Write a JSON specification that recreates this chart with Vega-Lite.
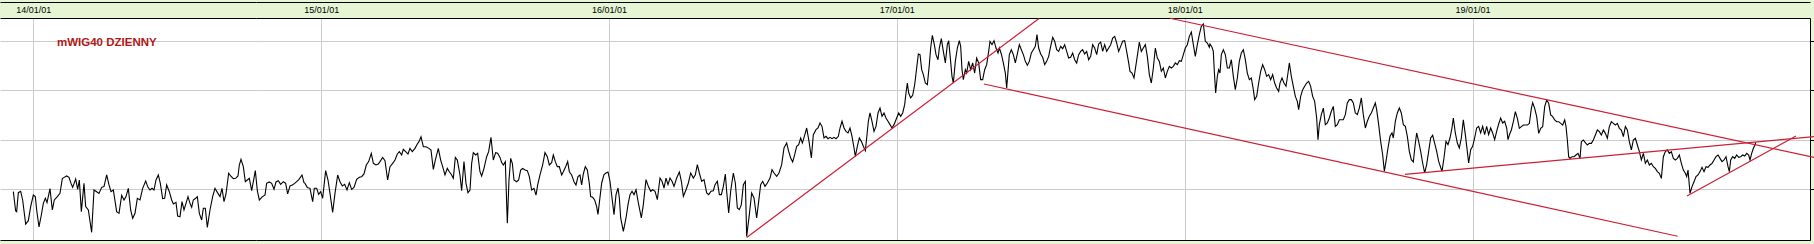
{
"$schema": "https://vega.github.io/schema/vega-lite/v6.json",
"width": 1810, "height": 222,
"autosize": "none",
"padding": {"left": 0, "top": 18, "right": 4, "bottom": 4},
"background": "#e6f6d5",
"view": {"fill": "#ffffff", "stroke": null},
"config": {"axis": {"labelFont": "Liberation Sans", "labelFontSize": 9, "labelColor": "#000000", "gridColor": "#cccccc", "gridWidth": 1}},
"datasets": {
"price": [
{"year":2013.9306,"close":3476},{"year":2013.9387,"close":3281},{"year":2013.9422,"close":3274},{"year":2013.9480,"close":3466},{"year":2013.9561,"close":3480},{"year":2013.9630,"close":3392},{"year":2013.9735,"close":3149},{"year":2013.9827,"close":3183},{"year":2013.9908,"close":3325},{"year":2014.0001,"close":3442},{"year":2014.0070,"close":3426},{"year":2014.0117,"close":3291},{"year":2014.0198,"close":3119},{"year":2014.0279,"close":3240},{"year":2014.0348,"close":3358},{"year":2014.0418,"close":3409},{"year":2014.0476,"close":3365},{"year":2014.0580,"close":3507},{"year":2014.0661,"close":3291},{"year":2014.0730,"close":3392},{"year":2014.0835,"close":3426},{"year":2014.0927,"close":3459},{"year":2014.1008,"close":3608},{"year":2014.1113,"close":3628},{"year":2014.1159,"close":3635},{"year":2014.1240,"close":3621},{"year":2014.1310,"close":3560},{"year":2014.1367,"close":3520},{"year":2014.1472,"close":3604},{"year":2014.1541,"close":3500},{"year":2014.1599,"close":3594},{"year":2014.1669,"close":3274},{"year":2014.1761,"close":3560},{"year":2014.1819,"close":3325},{"year":2014.1912,"close":3291},{"year":2014.2027,"close":3065},{"year":2014.2109,"close":3493},{"year":2014.2201,"close":3476},{"year":2014.2282,"close":3459},{"year":2014.2375,"close":3520},{"year":2014.2456,"close":3527},{"year":2014.2549,"close":3645},{"year":2014.2630,"close":3544},{"year":2014.2699,"close":3476},{"year":2014.2780,"close":3493},{"year":2014.2896,"close":3274},{"year":2014.2977,"close":3257},{"year":2014.3070,"close":3439},{"year":2014.3151,"close":3392},{"year":2014.3220,"close":3426},{"year":2014.3301,"close":3510},{"year":2014.3382,"close":3291},{"year":2014.3452,"close":3207},{"year":2014.3533,"close":3257},{"year":2014.3614,"close":3409},{"year":2014.3707,"close":3392},{"year":2014.3799,"close":3510},{"year":2014.3904,"close":3584},{"year":2014.3985,"close":3520},{"year":2014.4054,"close":3493},{"year":2014.4124,"close":3510},{"year":2014.4193,"close":3493},{"year":2014.4263,"close":3594},{"year":2014.4344,"close":3645},{"year":2014.4413,"close":3560},{"year":2014.4494,"close":3405},{"year":2014.4564,"close":3409},{"year":2014.4633,"close":3544},{"year":2014.4726,"close":3476},{"year":2014.4807,"close":3392},{"year":2014.4865,"close":3351},{"year":2014.4957,"close":3368},{"year":2014.5015,"close":3230},{"year":2014.5096,"close":3223},{"year":2014.5166,"close":3375},{"year":2014.5235,"close":3291},{"year":2014.5305,"close":3358},{"year":2014.5374,"close":3426},{"year":2014.5444,"close":3358},{"year":2014.5502,"close":3318},{"year":2014.5559,"close":3392},{"year":2014.5640,"close":3409},{"year":2014.5698,"close":3426},{"year":2014.5768,"close":3257},{"year":2014.5849,"close":3190},{"year":2014.5907,"close":3308},{"year":2014.5976,"close":3308},{"year":2014.6046,"close":3115},{"year":2014.6138,"close":3291},{"year":2014.6231,"close":3426},{"year":2014.6312,"close":3510},{"year":2014.6393,"close":3469},{"year":2014.6486,"close":3426},{"year":2014.6555,"close":3510},{"year":2014.6625,"close":3375},{"year":2014.6694,"close":3453},{"year":2014.6787,"close":3662},{"year":2014.6856,"close":3635},{"year":2014.6949,"close":3608},{"year":2014.7030,"close":3611},{"year":2014.7111,"close":3635},{"year":2014.7157,"close":3746},{"year":2014.7215,"close":3803},{"year":2014.7296,"close":3729},{"year":2014.7366,"close":3577},{"year":2014.7435,"close":3594},{"year":2014.7505,"close":3611},{"year":2014.7586,"close":3486},{"year":2014.7644,"close":3577},{"year":2014.7713,"close":3689},{"year":2014.7783,"close":3486},{"year":2014.7852,"close":3392},{"year":2014.7933,"close":3419},{"year":2014.8049,"close":3442},{"year":2014.8107,"close":3560},{"year":2014.8200,"close":3574},{"year":2014.8281,"close":3560},{"year":2014.8362,"close":3500},{"year":2014.8431,"close":3574},{"year":2014.8512,"close":3587},{"year":2014.8593,"close":3550},{"year":2014.8686,"close":3577},{"year":2014.8767,"close":3560},{"year":2014.8837,"close":3453},{"year":2014.8918,"close":3534},{"year":2014.8999,"close":3544},{"year":2014.9080,"close":3560},{"year":2014.9149,"close":3577},{"year":2014.9230,"close":3601},{"year":2014.9335,"close":3645},{"year":2014.9404,"close":3567},
{"year":2014.9439,"close":3560},{"year":2014.9520,"close":3517},{"year":2014.9612,"close":3510},{"year":2014.9705,"close":3375},{"year":2014.9763,"close":3510},{"year":2014.9844,"close":3510},{"year":2014.9913,"close":3449},{"year":2014.9983,"close":3476},{"year":2015.0052,"close":3409},{"year":2015.0157,"close":3689},{"year":2015.0238,"close":3594},{"year":2015.0307,"close":3459},{"year":2015.0400,"close":3267},{"year":2015.0481,"close":3459},{"year":2015.0574,"close":3645},{"year":2015.0655,"close":3577},{"year":2015.0736,"close":3534},{"year":2015.0817,"close":3550},{"year":2015.0898,"close":3493},{"year":2015.0979,"close":3567},{"year":2015.1060,"close":3500},{"year":2015.1141,"close":3520},{"year":2015.1234,"close":3601},{"year":2015.1326,"close":3621},{"year":2015.1407,"close":3628},{"year":2015.1488,"close":3655},{"year":2015.1569,"close":3746},{"year":2015.1650,"close":3780},{"year":2015.1743,"close":3864},{"year":2015.1813,"close":3763},{"year":2015.1905,"close":3746},{"year":2015.1986,"close":3756},{"year":2015.2044,"close":3780},{"year":2015.2137,"close":3823},{"year":2015.2218,"close":3790},{"year":2015.2310,"close":3594},{"year":2015.2391,"close":3729},{"year":2015.2484,"close":3763},{"year":2015.2565,"close":3796},{"year":2015.2646,"close":3857},{"year":2015.2716,"close":3881},{"year":2015.2797,"close":3847},{"year":2015.2855,"close":3904},{"year":2015.2936,"close":3881},{"year":2015.3017,"close":3857},{"year":2015.3086,"close":3914},{"year":2015.3167,"close":3881},{"year":2015.3260,"close":3914},{"year":2015.3341,"close":3958},{"year":2015.3399,"close":3982},{"year":2015.3469,"close":4032},{"year":2015.3550,"close":3931},{"year":2015.3642,"close":3931},{"year":2015.3746,"close":3914},{"year":2015.3816,"close":3898},{"year":2015.3897,"close":3702},{"year":2015.3966,"close":3796},{"year":2015.4071,"close":3914},{"year":2015.4152,"close":3796},{"year":2015.4221,"close":3729},{"year":2015.4302,"close":3645},{"year":2015.4383,"close":3712},{"year":2015.4453,"close":3678},{"year":2015.4534,"close":3645},{"year":2015.4592,"close":3611},{"year":2015.4661,"close":3823},{"year":2015.4731,"close":3796},{"year":2015.4823,"close":3645},{"year":2015.4881,"close":3486},{"year":2015.4962,"close":3780},{"year":2015.5032,"close":3560},{"year":2015.5101,"close":3466},{"year":2015.5171,"close":3493},{"year":2015.5229,"close":3763},{"year":2015.5287,"close":3871},{"year":2015.5368,"close":3847},{"year":2015.5437,"close":3864},{"year":2015.5518,"close":3678},{"year":2015.5576,"close":3635},{"year":2015.5657,"close":3712},{"year":2015.5750,"close":3830},{"year":2015.5819,"close":3881},{"year":2015.5900,"close":4026},{"year":2015.5981,"close":3796},{"year":2015.6062,"close":3871},{"year":2015.6132,"close":3864},{"year":2015.6213,"close":3823},{"year":2015.6271,"close":3770},{"year":2015.6329,"close":3746},{"year":2015.6398,"close":3780},{"year":2015.6468,"close":3156},{"year":2015.6526,"close":3594},{"year":2015.6584,"close":3813},{"year":2015.6642,"close":3763},{"year":2015.6699,"close":3594},{"year":2015.6792,"close":3577},{"year":2015.6861,"close":3594},{"year":2015.6931,"close":3695},{"year":2015.7000,"close":3712},{"year":2015.7082,"close":3695},{"year":2015.7163,"close":3689},{"year":2015.7232,"close":3628},{"year":2015.7313,"close":3493},{"year":2015.7394,"close":3510},{"year":2015.7464,"close":3442},{"year":2015.7522,"close":3544},{"year":2015.7603,"close":3645},{"year":2015.7695,"close":3746},{"year":2015.7776,"close":3871},{"year":2015.7857,"close":3830},{"year":2015.7927,"close":3746},{"year":2015.8008,"close":3770},{"year":2015.8066,"close":3847},{"year":2015.8135,"close":3780},{"year":2015.8205,"close":3729},{"year":2015.8274,"close":3729},{"year":2015.8355,"close":3645},{"year":2015.8413,"close":3678},{"year":2015.8494,"close":3729},{"year":2015.8564,"close":3780},{"year":2015.8622,"close":3678},{"year":2015.8703,"close":3645},{"year":2015.8784,"close":3577},{"year":2015.8853,"close":3544},{"year":2015.8923,"close":3628},{"year":2015.8992,"close":3645},{"year":2015.9050,"close":3544},{"year":2015.9108,"close":3655},{"year":2015.9177,"close":3729},{"year":2015.9247,"close":3695},{"year":2015.9316,"close":3560},{"year":2015.9363,"close":3426},{"year":2015.9432,"close":3419},{"year":2015.9502,"close":3392},{"year":2015.9571,"close":3325},{"year":2015.9617,"close":3247},
{"year":2015.9746,"close":3564},{"year":2015.9827,"close":3648},{"year":2015.9896,"close":3665},{"year":2015.9966,"close":3675},{"year":2016.0035,"close":3581},{"year":2016.0105,"close":3412},{"year":2016.0174,"close":3244},{"year":2016.0244,"close":3446},{"year":2016.0313,"close":3513},{"year":2016.0360,"close":3412},{"year":2016.0406,"close":3210},{"year":2016.0499,"close":3075},{"year":2016.0591,"close":3210},{"year":2016.0661,"close":3345},{"year":2016.0730,"close":3446},{"year":2016.0800,"close":3480},{"year":2016.0869,"close":3446},{"year":2016.0939,"close":3496},{"year":2016.1020,"close":3362},{"year":2016.1124,"close":3210},{"year":2016.1193,"close":3345},{"year":2016.1286,"close":3598},{"year":2016.1367,"close":3530},{"year":2016.1448,"close":3480},{"year":2016.1518,"close":3496},{"year":2016.1599,"close":3480},{"year":2016.1680,"close":3395},{"year":2016.1772,"close":3614},{"year":2016.1842,"close":3581},{"year":2016.1911,"close":3513},{"year":2016.1981,"close":3614},{"year":2016.2050,"close":3547},{"year":2016.2120,"close":3614},{"year":2016.2189,"close":3581},{"year":2016.2259,"close":3530},{"year":2016.2351,"close":3614},{"year":2016.2444,"close":3675},{"year":2016.2514,"close":3581},{"year":2016.2583,"close":3429},{"year":2016.2676,"close":3496},{"year":2016.2757,"close":3564},{"year":2016.2838,"close":3665},{"year":2016.2930,"close":3614},{"year":2016.3000,"close":3648},{"year":2016.3069,"close":3749},{"year":2016.3139,"close":3665},{"year":2016.3220,"close":3581},{"year":2016.3301,"close":3598},{"year":2016.3394,"close":3463},{"year":2016.3463,"close":3446},{"year":2016.3544,"close":3480},{"year":2016.3625,"close":3486},{"year":2016.3683,"close":3547},{"year":2016.3764,"close":3581},{"year":2016.3834,"close":3446},{"year":2016.3903,"close":3446},{"year":2016.3973,"close":3530},{"year":2016.4042,"close":3655},{"year":2016.4088,"close":3480},{"year":2016.4158,"close":3260},{"year":2016.4227,"close":3480},{"year":2016.4320,"close":3665},{"year":2016.4389,"close":3564},{"year":2016.4459,"close":3311},{"year":2016.4528,"close":3294},{"year":2016.4598,"close":3345},{"year":2016.4667,"close":3547},{"year":2016.4737,"close":3581},{"year":2016.4783,"close":3024},{"year":2016.4876,"close":3244},{"year":2016.4957,"close":3463},{"year":2016.5038,"close":3412},{"year":2016.5130,"close":3210},{"year":2016.5200,"close":3378},{"year":2016.5269,"close":3547},{"year":2016.5339,"close":3581},{"year":2016.5420,"close":3530},{"year":2016.5501,"close":3564},{"year":2016.5594,"close":3614},{"year":2016.5663,"close":3699},{"year":2016.5733,"close":3665},{"year":2016.5825,"close":3631},{"year":2016.5906,"close":3665},{"year":2016.5999,"close":3749},{"year":2016.6080,"close":3918},{"year":2016.6173,"close":3968},{"year":2016.6242,"close":3884},{"year":2016.6312,"close":3817},{"year":2016.6381,"close":3776},{"year":2016.6451,"close":3850},{"year":2016.6520,"close":3935},{"year":2016.6590,"close":3952},{"year":2016.6659,"close":4019},{"year":2016.6717,"close":3968},{"year":2016.6787,"close":4036},{"year":2016.6868,"close":4120},{"year":2016.6949,"close":3985},{"year":2016.7030,"close":3817},{"year":2016.7099,"close":4053},{"year":2016.7192,"close":4103},{"year":2016.7261,"close":4120},{"year":2016.7331,"close":4171},{"year":2016.7400,"close":4137},{"year":2016.7470,"close":4019},{"year":2016.7539,"close":4036},{"year":2016.7609,"close":4012},{"year":2016.7678,"close":4026},{"year":2016.7748,"close":4012},{"year":2016.7817,"close":4026},{"year":2016.7887,"close":4012},{"year":2016.7968,"close":4036},{"year":2016.8026,"close":4120},{"year":2016.8095,"close":4188},{"year":2016.8165,"close":4120},{"year":2016.8234,"close":4086},{"year":2016.8304,"close":4070},{"year":2016.8373,"close":4120},{"year":2016.8442,"close":4036},{"year":2016.8512,"close":3918},{"year":2016.8558,"close":3834},{"year":2016.8628,"close":3935},{"year":2016.8697,"close":4019},{"year":2016.8767,"close":3985},{"year":2016.8836,"close":3935},{"year":2016.8906,"close":3891},{"year":2016.8952,"close":4019},{"year":2016.9010,"close":4188},{"year":2016.9068,"close":4272},{"year":2016.9137,"close":4188},{"year":2016.9207,"close":4086},{"year":2016.9276,"close":4137},{"year":2016.9346,"close":4272},{"year":2016.9415,"close":4322},{"year":2016.9485,"close":4238},{"year":2016.9554,"close":4272},{"year":2016.9624,"close":4221},{"year":2016.9693,"close":4188},{"year":2016.9763,"close":4154},{"year":2016.9832,"close":4120},{"year":2016.9902,"close":4154},{"year":2016.9994,"close":4221},{"year":2017.0064,"close":4272},{"year":2017.0133,"close":4238},{"year":2017.0203,"close":4272},{"year":2017.0272,"close":4356},{"year":2017.0318,"close":4474},{"year":2017.0365,"close":4575},
{"year":2017.0411,"close":4474},{"year":2017.0481,"close":4424},{"year":2017.0550,"close":4450},{"year":2017.0620,"close":4558},{"year":2017.0689,"close":4727},{"year":2017.0747,"close":4869},{"year":2017.0805,"close":4862},{"year":2017.0863,"close":4710},{"year":2017.0921,"close":4660},{"year":2017.0990,"close":4575},{"year":2017.1060,"close":4558},{"year":2017.1129,"close":4761},{"year":2017.1175,"close":4929},{"year":2017.1233,"close":5057},{"year":2017.1303,"close":4963},{"year":2017.1361,"close":4862},{"year":2017.1430,"close":4811},{"year":2017.1476,"close":4929},{"year":2017.1546,"close":5024},{"year":2017.1615,"close":4895},{"year":2017.1685,"close":4778},{"year":2017.1754,"close":4963},{"year":2017.1801,"close":5003},{"year":2017.1847,"close":4862},{"year":2017.1916,"close":4643},{"year":2017.1963,"close":4575},{"year":2017.2032,"close":4794},{"year":2017.2102,"close":4929},{"year":2017.2171,"close":5003},{"year":2017.2218,"close":4946},{"year":2017.2264,"close":4710},{"year":2017.2310,"close":4609},{"year":2017.2380,"close":4710},{"year":2017.2426,"close":4676},{"year":2017.2495,"close":4794},{"year":2017.2565,"close":4710},{"year":2017.2634,"close":4778},{"year":2017.2704,"close":4676},{"year":2017.2773,"close":4828},{"year":2017.2843,"close":4778},{"year":2017.2912,"close":4609},{"year":2017.2982,"close":4609},{"year":2017.3051,"close":4710},{"year":2017.3121,"close":4761},{"year":2017.3190,"close":4895},{"year":2017.3237,"close":4997},{"year":2017.3306,"close":4963},{"year":2017.3376,"close":5003},{"year":2017.3445,"close":4929},{"year":2017.3515,"close":4879},{"year":2017.3561,"close":4929},{"year":2017.3630,"close":4869},{"year":2017.3700,"close":4778},{"year":2017.3769,"close":4676},{"year":2017.3816,"close":4525},{"year":2017.3862,"close":4693},{"year":2017.3908,"close":4862},{"year":2017.3978,"close":4912},{"year":2017.4047,"close":4862},{"year":2017.4117,"close":4778},{"year":2017.4186,"close":4869},{"year":2017.4256,"close":4963},{"year":2017.4325,"close":4912},{"year":2017.4395,"close":4862},{"year":2017.4464,"close":4794},{"year":2017.4534,"close":4754},{"year":2017.4603,"close":4794},{"year":2017.4673,"close":4879},{"year":2017.4742,"close":4912},{"year":2017.4811,"close":4946},{"year":2017.4869,"close":5064},{"year":2017.4927,"close":4929},{"year":2017.4997,"close":4869},{"year":2017.5066,"close":4835},{"year":2017.5136,"close":4761},{"year":2017.5205,"close":4794},{"year":2017.5275,"close":4845},{"year":2017.5344,"close":4946},{"year":2017.5414,"close":5037},{"year":2017.5483,"close":4997},{"year":2017.5553,"close":4912},{"year":2017.5622,"close":4895},{"year":2017.5692,"close":4946},{"year":2017.5761,"close":4922},{"year":2017.5831,"close":4963},{"year":2017.5900,"close":4895},{"year":2017.5969,"close":4828},{"year":2017.6039,"close":4835},{"year":2017.6108,"close":4879},{"year":2017.6178,"close":4811},{"year":2017.6247,"close":4778},{"year":2017.6317,"close":4862},{"year":2017.6386,"close":4895},{"year":2017.6456,"close":4912},{"year":2017.6525,"close":4869},{"year":2017.6595,"close":4895},{"year":2017.6664,"close":4811},{"year":2017.6734,"close":4845},{"year":2017.6803,"close":4963},{"year":2017.6873,"close":4929},{"year":2017.6942,"close":4862},{"year":2017.7012,"close":4970},{"year":2017.7081,"close":4990},{"year":2017.7151,"close":4895},{"year":2017.7220,"close":4963},{"year":2017.7290,"close":4895},{"year":2017.7359,"close":4929},{"year":2017.7429,"close":4963},{"year":2017.7498,"close":5030},{"year":2017.7568,"close":5047},{"year":2017.7637,"close":4980},{"year":2017.7706,"close":4895},{"year":2017.7776,"close":4946},{"year":2017.7845,"close":4997},{"year":2017.7915,"close":5003},{"year":2017.7984,"close":4895},{"year":2017.8054,"close":4778},{"year":2017.8100,"close":4693},{"year":2017.8170,"close":4676},{"year":2017.8239,"close":4626},{"year":2017.8309,"close":4761},{"year":2017.8378,"close":4895},{"year":2017.8424,"close":4990},{"year":2017.8494,"close":4895},{"year":2017.8563,"close":4929},{"year":2017.8633,"close":4963},{"year":2017.8702,"close":4845},{"year":2017.8772,"close":4660},{"year":2017.8841,"close":4575},{"year":2017.8911,"close":4727},{"year":2017.8980,"close":4929},{"year":2017.9050,"close":4828},{"year":2017.9119,"close":4794},{"year":2017.9189,"close":4693},{"year":2017.9258,"close":4727},{"year":2017.9328,"close":4626},{"year":2017.9397,"close":4693},{"year":2017.9467,"close":4744},{"year":2017.9536,"close":4727},{"year":2017.9606,"close":4744},{"year":2017.9675,"close":4778},{"year":2017.9745,"close":4761},{"year":2017.9814,"close":4801},{"year":2017.9884,"close":4794},{"year":2017.9953,"close":4862},{"year":2018.0022,"close":4929},{"year":2018.0092,"close":4963},{"year":2018.0161,"close":5047},{"year":2018.0231,"close":5091},{"year":2018.0300,"close":4963},{"year":2018.0370,"close":4845},{"year":2018.0439,"close":4963},{"year":2018.0509,"close":5064},{"year":2018.0578,"close":5148},{"year":2018.0648,"close":5172},{"year":2018.0717,"close":4997},{"year":2018.0787,"close":4980},{"year":2018.0856,"close":4936},
{"year":2018.0879,"close":4970},{"year":2018.0949,"close":4936},{"year":2018.0995,"close":4895},{"year":2018.1030,"close":4693},{"year":2018.1076,"close":4474},{"year":2018.1134,"close":4643},{"year":2018.1180,"close":4710},{"year":2018.1227,"close":4676},{"year":2018.1273,"close":4862},{"year":2018.1343,"close":4912},{"year":2018.1412,"close":4862},{"year":2018.1482,"close":4727},{"year":2018.1551,"close":4727},{"year":2018.1621,"close":4811},{"year":2018.1690,"close":4643},{"year":2018.1759,"close":4508},{"year":2018.1829,"close":4626},{"year":2018.1898,"close":4794},{"year":2018.1968,"close":4879},{"year":2018.2037,"close":4912},{"year":2018.2107,"close":4811},{"year":2018.2176,"close":4676},{"year":2018.2246,"close":4609},{"year":2018.2315,"close":4626},{"year":2018.2385,"close":4508},{"year":2018.2431,"close":4407},{"year":2018.2501,"close":4440},{"year":2018.2570,"close":4575},{"year":2018.2640,"close":4693},{"year":2018.2709,"close":4761},{"year":2018.2779,"close":4710},{"year":2018.2848,"close":4643},{"year":2018.2917,"close":4660},{"year":2018.2987,"close":4609},{"year":2018.3056,"close":4660},{"year":2018.3126,"close":4575},{"year":2018.3195,"close":4525},{"year":2018.3265,"close":4491},{"year":2018.3311,"close":4575},{"year":2018.3381,"close":4626},{"year":2018.3450,"close":4575},{"year":2018.3520,"close":4542},{"year":2018.3589,"close":4676},{"year":2018.3635,"close":4778},{"year":2018.3705,"close":4643},{"year":2018.3774,"close":4542},{"year":2018.3844,"close":4440},{"year":2018.3913,"close":4390},{"year":2018.3960,"close":4306},{"year":2018.4029,"close":4440},{"year":2018.4099,"close":4508},{"year":2018.4168,"close":4542},{"year":2018.4238,"close":4575},{"year":2018.4307,"close":4592},{"year":2018.4376,"close":4542},{"year":2018.4446,"close":4440},{"year":2018.4515,"close":4390},{"year":2018.4585,"close":4221},{"year":2018.4631,"close":4002},{"year":2018.4677,"close":4154},{"year":2018.4747,"close":4255},{"year":2018.4817,"close":4322},{"year":2018.4886,"close":4154},{"year":2018.4956,"close":4171},{"year":2018.5025,"close":4221},{"year":2018.5095,"close":4289},{"year":2018.5164,"close":4339},{"year":2018.5233,"close":4137},{"year":2018.5303,"close":4154},{"year":2018.5372,"close":4204},{"year":2018.5442,"close":4204},{"year":2018.5511,"close":4204},{"year":2018.5581,"close":4255},{"year":2018.5650,"close":4373},{"year":2018.5720,"close":4407},{"year":2018.5789,"close":4407},{"year":2018.5859,"close":4373},{"year":2018.5928,"close":4272},{"year":2018.5998,"close":4255},{"year":2018.6067,"close":4322},{"year":2018.6137,"close":4424},{"year":2018.6206,"close":4255},{"year":2018.6276,"close":4120},{"year":2018.6345,"close":4188},{"year":2018.6415,"close":4238},{"year":2018.6484,"close":4272},{"year":2018.6554,"close":4322},{"year":2018.6623,"close":4373},{"year":2018.6669,"close":4306},{"year":2018.6739,"close":4154},{"year":2018.6808,"close":3985},{"year":2018.6878,"close":3850},{"year":2018.6936,"close":3682},{"year":2018.6994,"close":3783},{"year":2018.7063,"close":3918},{"year":2018.7133,"close":4036},{"year":2018.7202,"close":4070},{"year":2018.7248,"close":4019},{"year":2018.7318,"close":4188},{"year":2018.7387,"close":4272},{"year":2018.7457,"close":4322},{"year":2018.7526,"close":4272},{"year":2018.7596,"close":4154},{"year":2018.7665,"close":4137},{"year":2018.7735,"close":4036},{"year":2018.7804,"close":3884},{"year":2018.7874,"close":3800},{"year":2018.7943,"close":3776},{"year":2018.8001,"close":3935},{"year":2018.8059,"close":4070},{"year":2018.8128,"close":3985},{"year":2018.8198,"close":3884},{"year":2018.8267,"close":3766},{"year":2018.8337,"close":3665},{"year":2018.8406,"close":3749},{"year":2018.8476,"close":3884},{"year":2018.8545,"close":4019},{"year":2018.8615,"close":4046},{"year":2018.8684,"close":3968},{"year":2018.8754,"close":3884},{"year":2018.8823,"close":3783},{"year":2018.8893,"close":3722},{"year":2018.8939,"close":3682},{"year":2018.9008,"close":3817},{"year":2018.9078,"close":3985},{"year":2018.9147,"close":3952},{"year":2018.9217,"close":4019},{"year":2018.9286,"close":4120},{"year":2018.9333,"close":4221},{"year":2018.9402,"close":4070},{"year":2018.9472,"close":3968},{"year":2018.9541,"close":3918},{"year":2018.9611,"close":4019},{"year":2018.9680,"close":4204},{"year":2018.9750,"close":4053},{"year":2018.9819,"close":3884},{"year":2018.9865,"close":3766},{"year":2018.9935,"close":3901},{"year":2019.0004,"close":3935},{"year":2019.0074,"close":4019},{"year":2019.0143,"close":4120},{"year":2019.0213,"close":4137},{"year":2019.0282,"close":4070},{"year":2019.0352,"close":4137},{"year":2019.0421,"close":4053},{"year":2019.0491,"close":4137},{"year":2019.0560,"close":4053},{"year":2019.0630,"close":4120},{"year":2019.0699,"close":4070},{"year":2019.0769,"close":4002},{"year":2019.0838,"close":4086},{"year":2019.0908,"close":4161},{"year":2019.0977,"close":4221},{"year":2019.1047,"close":4171},{"year":2019.1116,"close":4188},{"year":2019.1186,"close":4120},{"year":2019.1232,"close":4002},
{"year":2019.1279,"close":4049},{"year":2019.1349,"close":4100},{"year":2019.1418,"close":4184},{"year":2019.1488,"close":4285},{"year":2019.1557,"close":4218},{"year":2019.1627,"close":4117},{"year":2019.1696,"close":4134},{"year":2019.1766,"close":4150},{"year":2019.1835,"close":4150},{"year":2019.1905,"close":4150},{"year":2019.1974,"close":4167},{"year":2019.2044,"close":4319},{"year":2019.2090,"close":4376},{"year":2019.2159,"close":4319},{"year":2019.2229,"close":4235},{"year":2019.2298,"close":4066},{"year":2019.2368,"close":4117},{"year":2019.2437,"close":4134},{"year":2019.2507,"close":4336},{"year":2019.2576,"close":4403},{"year":2019.2646,"close":4370},{"year":2019.2715,"close":4252},{"year":2019.2785,"close":4235},{"year":2019.2854,"close":4201},{"year":2019.2924,"close":4184},{"year":2019.2993,"close":4184},{"year":2019.3063,"close":4167},{"year":2019.3132,"close":4150},{"year":2019.3202,"close":4201},{"year":2019.3248,"close":4134},{"year":2019.3294,"close":3999},{"year":2019.3340,"close":3830},{"year":2019.3387,"close":3813},{"year":2019.3456,"close":3830},{"year":2019.3526,"close":3830},{"year":2019.3595,"close":3847},{"year":2019.3665,"close":3864},{"year":2019.3734,"close":3813},{"year":2019.3781,"close":3982},{"year":2019.3850,"close":3999},{"year":2019.3919,"close":3972},{"year":2019.3989,"close":3948},{"year":2019.4058,"close":3965},{"year":2019.4128,"close":3965},{"year":2019.4197,"close":3999},{"year":2019.4267,"close":4049},{"year":2019.4336,"close":4100},{"year":2019.4406,"close":4083},{"year":2019.4475,"close":4049},{"year":2019.4545,"close":4100},{"year":2019.4614,"close":4066},{"year":2019.4684,"close":4016},{"year":2019.4753,"close":4134},{"year":2019.4823,"close":4184},{"year":2019.4892,"close":4167},{"year":2019.4962,"close":4150},{"year":2019.5031,"close":4167},{"year":2019.5101,"close":4117},{"year":2019.5170,"close":4100},{"year":2019.5240,"close":4033},{"year":2019.5309,"close":4134},{"year":2019.5379,"close":4100},{"year":2019.5448,"close":3982},{"year":2019.5518,"close":3898},{"year":2019.5587,"close":3999},{"year":2019.5657,"close":4016},{"year":2019.5726,"close":3948},{"year":2019.5796,"close":3881},{"year":2019.5865,"close":3797},{"year":2019.5935,"close":3864},{"year":2019.6004,"close":3763},{"year":2019.6074,"close":3797},{"year":2019.6143,"close":3746},{"year":2019.6213,"close":3763},{"year":2019.6282,"close":3729},{"year":2019.6351,"close":3712},{"year":2019.6421,"close":3679},{"year":2019.6490,"close":3662},{"year":2019.6560,"close":3611},{"year":2019.6629,"close":3830},{"year":2019.6699,"close":3881},{"year":2019.6768,"close":3898},{"year":2019.6838,"close":3864},{"year":2019.6907,"close":3881},{"year":2019.6977,"close":3813},{"year":2019.7046,"close":3797},{"year":2019.7116,"close":3813},{"year":2019.7185,"close":3847},{"year":2019.7255,"close":3763},{"year":2019.7324,"close":3695},{"year":2019.7394,"close":3662},{"year":2019.7440,"close":3628},{"year":2019.7486,"close":3695},{"year":2019.7556,"close":3459},{"year":2019.7625,"close":3527},{"year":2019.7695,"close":3577},{"year":2019.7764,"close":3628},{"year":2019.7834,"close":3645},{"year":2019.7903,"close":3679},{"year":2019.7973,"close":3722},{"year":2019.8042,"close":3679},{"year":2019.8112,"close":3729},{"year":2019.8181,"close":3722},{"year":2019.8251,"close":3746},{"year":2019.8320,"close":3763},{"year":2019.8390,"close":3797},{"year":2019.8459,"close":3830},{"year":2019.8529,"close":3847},{"year":2019.8598,"close":3813},{"year":2019.8668,"close":3780},{"year":2019.8737,"close":3797},{"year":2019.8806,"close":3830},{"year":2019.8876,"close":3729},{"year":2019.8922,"close":3679},{"year":2019.8969,"close":3797},{"year":2019.9038,"close":3830},{"year":2019.9108,"close":3813},{"year":2019.9177,"close":3847},{"year":2019.9247,"close":3824},{"year":2019.9316,"close":3830},{"year":2019.9386,"close":3847},{"year":2019.9455,"close":3837},{"year":2019.9525,"close":3864},{"year":2019.9594,"close":3847},{"year":2019.9640,"close":3797},{"year":2019.9698,"close":3864},{"year":2019.9756,"close":3915},{"year":2019.9814,"close":3948},{"year":2019.9837,"close":3975}
],
"trend": [
{"line":"A","year":2016.4784,"close":3013},{"line":"A","year":2017.4939,"close":5228},
{"line":"B","year":2017.3028,"close":4565},{"line":"B","year":2019.7128,"close":3025},
{"line":"C","year":2017.9490,"close":5230},{"line":"C","year":2020.2419,"close":3787},
{"line":"D","year":2018.7654,"close":3652},{"line":"D","year":2020.2419,"close":4047},
{"line":"E","year":2019.7451,"close":3432},{"line":"E","year":2020.1238,"close":4039}
]
},
"layer": [
{
"data": {"name": "price"},
"mark": {"type": "line", "color": "#000000", "strokeWidth": 1.1},
"encoding": {
"x": {"field": "year", "type": "quantitative", "scale": {"domain": [2013.8843, 2020.1724], "nice": false, "zero": false},
"axis": {"orient": "top", "values": [2014, 2015, 2016, 2017, 2018, 2019], "labelExpr": "(datum.value - 2000) + '/01/01'", "grid": true, "ticks": false, "labelPadding": 4, "domain": true, "domainColor": "#000000", "labelFlush": false, "labelOverlap": false, "title": null}},
"y": {"field": "close", "type": "quantitative", "scale": {"domain": [2987.3, 5232.7], "nice": false, "zero": false},
"axis": {"orient": "right", "values": [3500, 4000, 4500, 5000], "grid": true, "ticks": true, "tickSize": 5, "tickColor": "#000000", "labels": false, "domain": true, "domainColor": "#000000", "title": null}}
}
},
{
"data": {"name": "trend"},
"mark": {"type": "line", "color": "#cc1f36", "strokeWidth": 1.2, "clip": false},
"encoding": {
"x": {"field": "year", "type": "quantitative", "axis": {"orient": "top", "offset": 16, "labels": false, "ticks": false, "grid": false, "domain": true, "domainColor": "#000000", "title": null}},
"y": {"field": "close", "type": "quantitative", "axis": null},
"detail": {"field": "line", "type": "nominal"}
}
},
{
"data": {"values": [{}]},
"mark": {"type": "text", "align": "left", "baseline": "middle", "font": "Liberation Sans", "fontSize": 11.5, "fontWeight": "bold", "color": "#b01818"},
"encoding": {
"x": {"datum": 2014.0823, "type": "quantitative", "axis": {"orient": "bottom", "labels": false, "ticks": false, "grid": false, "domain": true, "domainColor": "#000000", "title": null}},
"y": {"datum": 4975, "type": "quantitative", "axis": null},
"text": {"value": "mWIG40 DZIENNY"}
}
}
],
"resolve": {"axis": {"x": "independent", "y": "independent"}}
}
